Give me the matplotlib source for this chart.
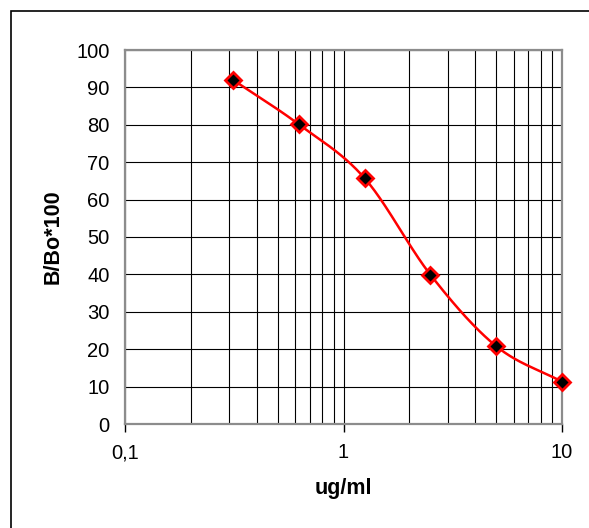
import numpy as np
import matplotlib
matplotlib.use('Agg')
from matplotlib import pyplot as plt
from matplotlib.patches import Rectangle
from matplotlib.ticker import FixedLocator, LogLocator, NullFormatter

conc = [0.3125, 0.625, 1.25, 2.5, 5, 10]
bbo = [92.0, 80.1, 65.7, 39.9, 20.8, 11.3]
xticks = [0.1, 1, 10]
xticklabels = ['0,1', '1', '10']
yticks = list(range(0, 101, 10))

plt.rcParams['font.family'] = ['Liberation Sans', 'DejaVu Sans']


def smooth(xs, ys, n=40):
    # catmull-rom through the points, x in log space
    px = np.log10(np.array(xs, dtype=float))
    py = np.array(ys, dtype=float)
    px = np.concatenate([[2 * px[0] - px[1]], px, [2 * px[-1] - px[-2]]])
    py = np.concatenate([[2 * py[0] - py[1]], py, [2 * py[-1] - py[-2]]])
    outx = []
    outy = []
    for i in range(1, len(px) - 2):
        t = np.linspace(0, 1, n)
        for arr, out in ((px, outx), (py, outy)):
            p0, p1, p2, p3 = arr[i - 1], arr[i], arr[i + 1], arr[i + 2]
            out.extend(0.5 * ((2 * p1) + (-p0 + p2) * t +
                              (2 * p0 - 5 * p1 + 4 * p2 - p3) * t ** 2 +
                              (-p0 + 3 * p1 - 3 * p2 + p3) * t ** 3))
    return 10 ** np.array(outx), np.array(outy)


fig = plt.figure(figsize=(5.89, 5.28), dpi=100)
# outer chart border, right and bottom sides fall outside the picture
fig.patches.append(Rectangle((10.5 / 589, -0.05), 1.1, 1 - 10.5 / 528 + 0.05,
                             transform=fig.transFigure, fill=False,
                             edgecolor='black', linewidth=1.2))
ax = fig.add_axes([125 / 589, 1 - 424 / 528, 437 / 589, 374 / 528])

ax.set_xscale('log')
ax.set_xlim(0.1, 10)
ax.set_ylim(0, 100)

ax.xaxis.set_major_locator(FixedLocator(xticks))
ax.set_xticklabels(xticklabels)
ax.xaxis.set_minor_locator(LogLocator(base=10, subs=np.arange(2, 10)))
ax.xaxis.set_minor_formatter(NullFormatter())
ax.set_yticks(yticks)

ax.grid(True, which='both', axis='x', color='black', linewidth=0.8)
ax.grid(True, which='major', axis='y', color='black', linewidth=0.8)
ax.set_axisbelow(True)

for s in ax.spines.values():
    s.set_color('#8c8c8c')
    s.set_linewidth(1.6)

ax.tick_params(axis='x', which='major', direction='out', length=6,
               width=1, labelsize=14.5, color='black', pad=8)
ax.tick_params(axis='x', which='minor', length=0)
ax.tick_params(axis='y', which='major', length=0, labelsize=14.5, pad=11)

sx, sy = smooth(conc, bbo)
ax.plot(sx, sy, color='red', linewidth=1.8, zorder=3)
ax.plot(conc, bbo, linestyle='none', marker='D', markersize=8,
        markerfacecolor='black', markeredgecolor='red', markeredgewidth=2,
        zorder=4, clip_on=False)

ax.set_xlabel('ug/ml', fontsize=15.5, fontweight='bold', labelpad=11)
ax.set_ylabel('B/Bo*100', fontsize=15.5, fontweight='bold', labelpad=9)

fig.savefig('out.png', dpi=100)
